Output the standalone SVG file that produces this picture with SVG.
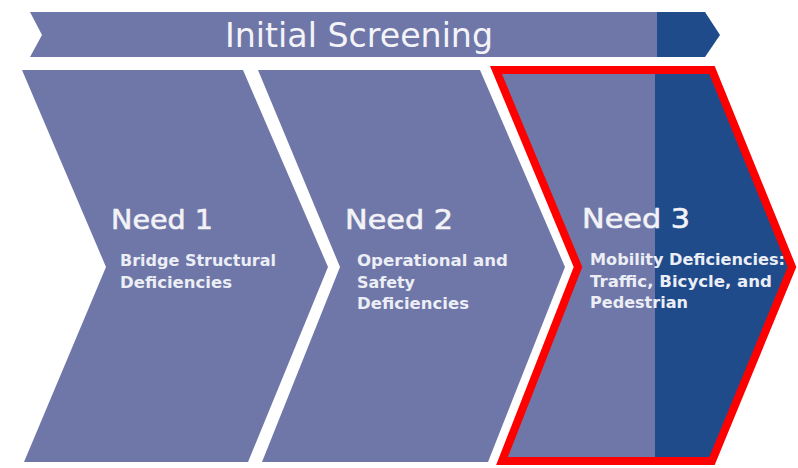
<svg xmlns="http://www.w3.org/2000/svg" width="798" height="468" viewBox="0 0 798 468">
  <defs>
    <style>
      .light { fill: #6f77a8; }
      .dark { fill: #1f4b8b; }
      .title { font-family: "DejaVu Sans", "Liberation Sans", sans-serif; fill: #f4f4f8; }
      .head { font-family: "DejaVu Sans", "Liberation Sans", sans-serif; font-size: 27px; fill: #f2f2f7; stroke: #f2f2f7; stroke-width: 0.6; }
      .sub { font-family: "DejaVu Sans", "Liberation Sans", sans-serif; font-size: 15px; font-weight: bold; fill: #eceef6; }
      .outline { fill: none; stroke: #ff0000; stroke-width: 8; stroke-linejoin: miter; }
    </style>
    <clipPath id="need3-clip">
      <polygon points="496,70 712,70 792,267 712,461 502,461 578,267"/>
    </clipPath>
    <clipPath id="banner-clip">
      <polygon points="30,12 705,12 720,35 705,57 30,57 42,35"/>
    </clipPath>
  </defs>

  <rect x="0" y="0" width="798" height="468" fill="#ffffff"/>

  <!-- top banner -->
  <g id="banner">
    <g clip-path="url(#banner-clip)">
      <rect class="light" x="28" y="10" width="630" height="50"/>
      <rect class="dark" x="657" y="10" width="70" height="50"/>
    </g>
    <text class="title" x="359" y="47" font-size="33" text-anchor="middle" textLength="268" lengthAdjust="spacingAndGlyphs">Initial Screening</text>
  </g>

  <!-- step 1 -->
  <g id="need1">
    <polygon class="light" points="22,70 243,70 328,267 248,462 24,462 106,267"/>
    <text class="head" x="111" y="229" textLength="102" lengthAdjust="spacingAndGlyphs">Need 1</text>
    <text class="sub" x="120" y="266" textLength="156" lengthAdjust="spacingAndGlyphs">Bridge Structural</text>
    <text class="sub" x="120" y="288" textLength="112" lengthAdjust="spacingAndGlyphs">Deficiencies</text>
  </g>

  <!-- step 2 -->
  <g id="need2">
    <polygon class="light" points="258,70 480,70 565,267 488,462 262,462 340,267"/>
    <text class="head" x="345" y="229" textLength="108" lengthAdjust="spacingAndGlyphs">Need 2</text>
    <text class="sub" x="357" y="266" textLength="151" lengthAdjust="spacingAndGlyphs">Operational and</text>
    <text class="sub" x="357" y="288" textLength="58" lengthAdjust="spacingAndGlyphs">Safety</text>
    <text class="sub" x="357" y="309" textLength="112" lengthAdjust="spacingAndGlyphs">Deficiencies</text>
  </g>

  <!-- step 3, highlighted -->
  <g id="need3">
    <g clip-path="url(#need3-clip)">
      <rect class="light" x="490" y="66" width="166" height="400"/>
      <rect class="dark" x="655" y="66" width="145" height="400"/>
    </g>
    <text class="head" x="582" y="228" textLength="108" lengthAdjust="spacingAndGlyphs">Need 3</text>
    <text class="sub" x="590" y="265" textLength="195" lengthAdjust="spacingAndGlyphs">Mobility Deficiencies:</text>
    <text class="sub" x="590" y="287" textLength="182" lengthAdjust="spacingAndGlyphs">Traffic, Bicycle, and</text>
    <text class="sub" x="590" y="308" textLength="98" lengthAdjust="spacingAndGlyphs">Pedestrian</text>
    <polygon class="outline" points="496,70 712,70 792,267 712,461 502,461 578,267"/>
  </g>
</svg>
